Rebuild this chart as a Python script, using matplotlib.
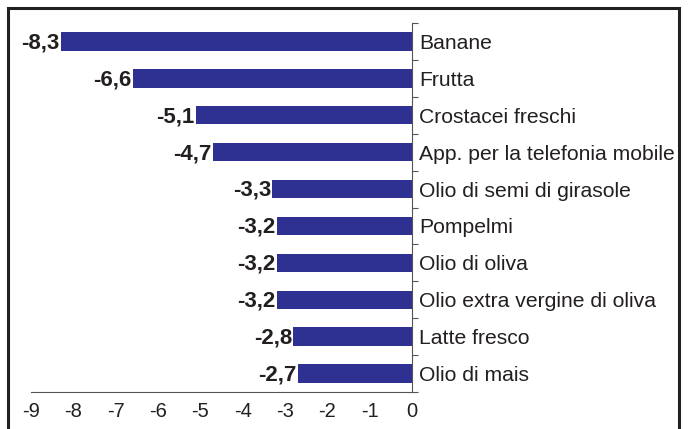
import matplotlib.pyplot as plt
from matplotlib.patches import Rectangle
from matplotlib.ticker import FixedLocator

plt.rcParams["font.family"] = ["Liberation Sans", "DejaVu Sans"]

# Data
categories = ["Banane", "Frutta", "Crostacei freschi", "App. per la telefonia mobile",
              "Olio di semi di girasole", "Pompelmi", "Olio di oliva",
              "Olio extra vergine di oliva", "Latte fresco", "Olio di mais"]
values = [-8.3, -6.6, -5.1, -4.7, -3.3, -3.2, -3.2, -3.2, -2.8, -2.7]
x_ticks = [-9, -8, -7, -6, -5, -4, -3, -2, -1, 0]

bar_color = "#2e3192"
text_color = "#231f20"

fig = plt.figure(figsize=(6.88, 4.29), dpi=100)
ax = fig.add_axes([31 / 688, 1 - 392 / 429, 381 / 688, 369 / 429])

pos = list(range(len(categories)))
ax.barh(pos, values, height=0.5, color=bar_color)

ax.set_xlim(-9, 0)
ax.set_ylim(len(categories) - 0.5, -0.5)

# value labels
for y, v in zip(pos, values):
    ax.annotate(f"{v:.1f}".replace(".", ","), xy=(v, y), xytext=(-1, -1),
                textcoords="offset points", ha="right", va="center",
                fontsize=16, fontweight="bold", color=text_color)

# spines: zero axis on the right, baseline at bottom
for s in ["top", "left"]:
    ax.spines[s].set_visible(False)
ax.spines["right"].set_color("#555555")
ax.spines["right"].set_linewidth(0.8)
ax.spines["bottom"].set_color("#555555")
ax.spines["bottom"].set_linewidth(0.8)

ax.yaxis.tick_right()
ax.set_yticks(pos)
ax.set_yticklabels(categories, fontsize=15.2, color=text_color)
ax.yaxis.set_minor_locator(FixedLocator([p - 0.5 for p in pos] + [len(pos) - 0.5]))
ax.tick_params(axis="y", which="major", length=0, pad=5)
ax.tick_params(axis="y", which="minor", length=4, width=0.8, color="#555555",
               direction="out", right=True, left=False)

ax.set_xticks(x_ticks)
ax.set_xticklabels([str(t) for t in x_ticks], fontsize=14.5, color=text_color)
ax.tick_params(axis="x", length=0, pad=7)

# frame around the whole chart
fig.patches.append(Rectangle((8 / 688, -0.02), 671 / 688, 1 - 8 / 429 + 0.02,
                             transform=fig.transFigure, fill=False,
                             edgecolor="#231f20", linewidth=2.2))

fig.savefig("out.png", dpi=100)
